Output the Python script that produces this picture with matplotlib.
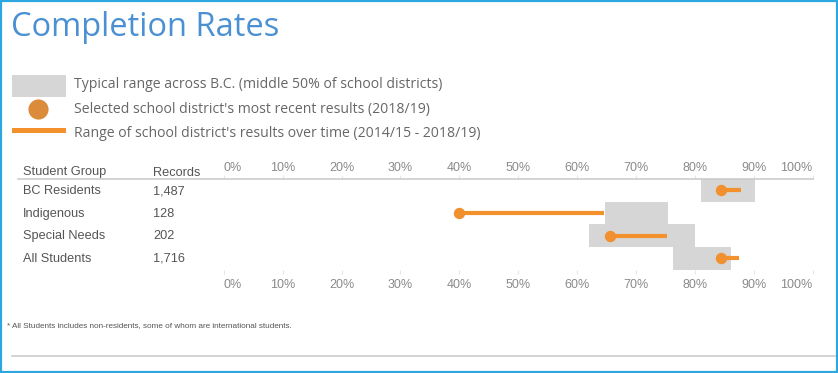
import matplotlib
matplotlib.use("Agg")
import matplotlib.pyplot as plt
from matplotlib.patches import Rectangle
from matplotlib.lines import Line2D

# ---------------- data ----------------
groups = ["BC Residents", "Indigenous", "Special Needs", "All Students"]
records = ["1,487", "128", "202", "1,716"]
typical_low = [81.0, 64.7, 62.0, 76.3]
typical_high = [90.3, 75.5, 80.1, 86.1]
recent = [84.4, 39.9, 65.6, 84.4]
range_low = [84.4, 39.9, 65.6, 84.4]
range_high = [87.9, 64.5, 75.2, 87.5]
ticks = [0, 10, 20, 30, 40, 50, 60, 70, 80, 90, 100]
tick_labels = [f"{t}%" for t in ticks]

title = "Completion Rates"
legend_texts = [
    "Typical range across B.C. (middle 50% of school districts)",
    "Selected school district's most recent results (2018/19)",
    "Range of school district's results over time (2014/15 - 2018/19)",
]
footnote = "* All Students includes non-residents, some of whom are international students."

# ---------------- style ----------------
W, H = 838, 373
GREY_BOX = "#d6d6d6"
ORANGE = "#f3922c"
ORANGE_DOT = "#f1902f"
LEG_DOT = "#dc8b3a"
TXT = "#555555"
LEG_TXT = "#666666"
TICK_TXT = "#8a8a8a"
BLUE = "#2ea7e0"
TITLE_BLUE = "#4a90d2"
SANS = ["Liberation Sans", "DejaVu Sans"]
OPEN = ["Open Sans", "DejaVu Sans"]

fig = plt.figure(figsize=(W / 100, H / 100), dpi=100)
fig.patch.set_facecolor("white")


def fx(x):
    return x / W


def fy(y):
    return 1 - y / H


# frame
fig.add_artist(Rectangle((fx(1), fy(372)), fx(836), fy(0.5) - fy(372),
                         transform=fig.transFigure, fill=False, edgecolor=BLUE, linewidth=1.6))

# title
fig.text(fx(11), fy(36), title, fontsize=23.5, color=TITLE_BLUE, family=OPEN, va="baseline", ha="left")

# legend
fig.add_artist(Rectangle((fx(12), fy(97)), fx(54), fy(75) - fy(97), transform=fig.transFigure,
                         facecolor=GREY_BOX, edgecolor="none"))
fig.add_artist(Line2D([fx(38)], [fy(109)], marker="o", markersize=14.5, color=LEG_DOT,
                      markeredgewidth=0, transform=fig.transFigure))
fig.add_artist(Rectangle((fx(12), fy(133)), fx(54), fy(128) - fy(133), transform=fig.transFigure,
                         facecolor=ORANGE, edgecolor="none"))
for txt, yb in zip(legend_texts, [88.3, 113.3, 136.7]):
    fig.text(fx(74), fy(yb), txt, fontsize=10.1, color=LEG_TXT, family=OPEN, va="baseline", ha="left")

# table headers
fig.text(fx(23), fy(175.5), "Student Group", fontsize=9.2, color=TXT, family=SANS, va="baseline")
fig.text(fx(153), fy(175.5), "Records", fontsize=9.2, color=TXT, family=SANS, va="baseline")
for g, r, yb in zip(groups, records, [194, 216.7, 239.3, 261.7]):
    fig.text(fx(23), fy(yb), g, fontsize=9.2, color=TXT, family=SANS, va="baseline")
    fig.text(fx(153), fy(yb), r, fontsize=9.2, color=TXT, family=SANS, va="baseline")

# header underline
fig.add_artist(Line2D([fx(18), fx(813)], [fy(179), fy(179)], color="#cccccc", linewidth=1.2,
                      transform=fig.transFigure))

# footnote
fig.text(fx(7), fy(327.3), footnote, fontsize=5.9, color="#555555", family=SANS, va="baseline")
# bottom rule
fig.add_artist(Line2D([fx(12), fx(835)], [fy(356), fy(356)], color="#cccccc", linewidth=1.2,
                      transform=fig.transFigure))

# ---------------- chart axes ----------------
x0, x1 = 223.8, 812.5
ytop, ybot = 179.0, 269.6
ax = fig.add_axes([fx(x0), fy(ybot), fx(x1 - x0), fy(ytop) - fy(ybot)])
ax.set_xlim(0, 100)
ax.set_ylim(len(groups) - 0.5, -0.5)
for s in ax.spines.values():
    s.set_visible(False)
ax.set_yticks([])
ax.set_xticks(ticks)
ax.set_xticklabels(tick_labels)
ax.tick_params(axis="x", which="both", top=False, bottom=True, labeltop=False, labelbottom=True,
               length=3, width=0.8, color="#e6e6e6", labelcolor=TICK_TXT, labelsize=9, pad=3.7)

sec = ax.secondary_xaxis("top")
sec.set_xticks(ticks)
sec.set_xticklabels(tick_labels)
sec.spines["top"].set_visible(False)
sec.tick_params(axis="x", length=3, width=0.8, color="#e6e6e6", labelcolor=TICK_TXT,
                labelsize=9, pad=0.8)

for labs in (ax.get_xticklabels(), sec.get_xticklabels()):
    for l in labs:
        l.set_family(SANS)
    labs[0].set_ha("left")
    labs[-1].set_ha("right")

for i in range(len(groups)):
    ax.barh(i, typical_high[i] - typical_low[i], left=typical_low[i], height=1.0,
            color=GREY_BOX, edgecolor="none", zorder=i * 3 + 1)
    ax.plot([range_low[i], range_high[i]], [i, i], color=ORANGE, linewidth=3.0,
            solid_capstyle="butt", zorder=i * 3 + 2)
    ax.plot([recent[i]], [i], marker="o", markersize=8.2, color=ORANGE_DOT,
            markeredgewidth=0, zorder=i * 3 + 3)

fig.savefig("out.png", dpi=100, facecolor="white")
